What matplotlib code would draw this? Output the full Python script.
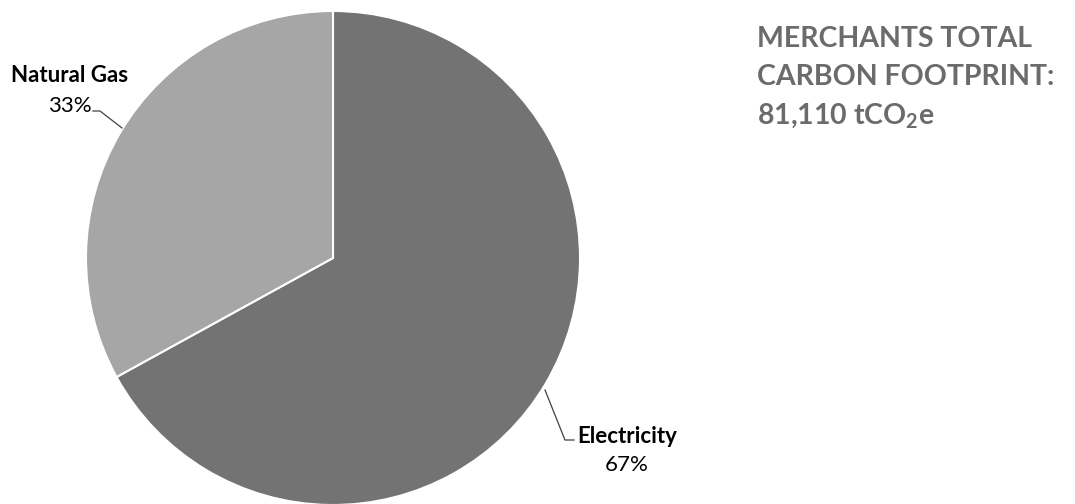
import matplotlib
matplotlib.use("Agg")
import matplotlib.pyplot as plt

# data
labels = ["Electricity", "Natural Gas"]
shares = [67, 33]
colors = ["#737373", "#a6a6a6"]
title_lines = ["MERCHANTS TOTAL", "CARBON FOOTPRINT:", "81,110 tCO$_2$e"]

plt.rcParams["font.family"] = ["Lato", "DejaVu Sans"]
plt.rcParams["mathtext.default"] = "regular"

W, H = 1075, 504
fig = plt.figure(figsize=(W / 100, H / 100), dpi=100)

# pie axes: centre (333, 258) px, radius 247 px
cx, cy, r = 333, 258, 247
ax = fig.add_axes([(cx - r) / W, (H - cy - r) / H, 2 * r / W, 2 * r / H])
ax.pie(shares, colors=colors, startangle=90, counterclock=False,
       radius=1, wedgeprops=dict(edgecolor="white", linewidth=1.5))
ax.set_xlim(-1, 1)
ax.set_ylim(-1, 1)
ax.set_aspect("equal")
ax.axis("off")


def px(x, y):
    # pixel position -> pie data coords
    return (x - cx) / r, (cy - y) / r


# Natural Gas label + leader
tx, ty = px(70, 82)
ax.text(tx, ty, labels[1], ha="center", va="baseline", fontsize=16,
        fontweight="bold", color="black")
tx, ty = px(70, 112)
ax.text(tx, ty, f"{shares[1]}%", ha="center", va="baseline", fontsize=16,
        color="black")
pts = [px(93, 111), px(100, 111), px(122, 128)]
ax.plot([p[0] for p in pts], [p[1] for p in pts], color="#404040", lw=0.9,
        clip_on=False)

# Electricity label + leader
tx, ty = px(627, 443)
ax.text(tx, ty, labels[0], ha="center", va="baseline", fontsize=16,
        fontweight="bold", color="black", clip_on=False)
tx, ty = px(627, 471)
ax.text(tx, ty, f"{shares[0]}%", ha="center", va="baseline", fontsize=16,
        color="black", clip_on=False)
pts = [px(545, 390), px(565, 440), px(574, 440)]
ax.plot([p[0] for p in pts], [p[1] for p in pts], color="#404040", lw=0.9,
        clip_on=False)

# title block on the right
for i, line in enumerate(title_lines):
    fig.text(757 / W, 1 - (47 + 38 * i) / H, line, ha="left", va="baseline",
             fontsize=20.5, fontweight="bold", color="#6b6b6b")

fig.savefig("out.png", dpi=100)
